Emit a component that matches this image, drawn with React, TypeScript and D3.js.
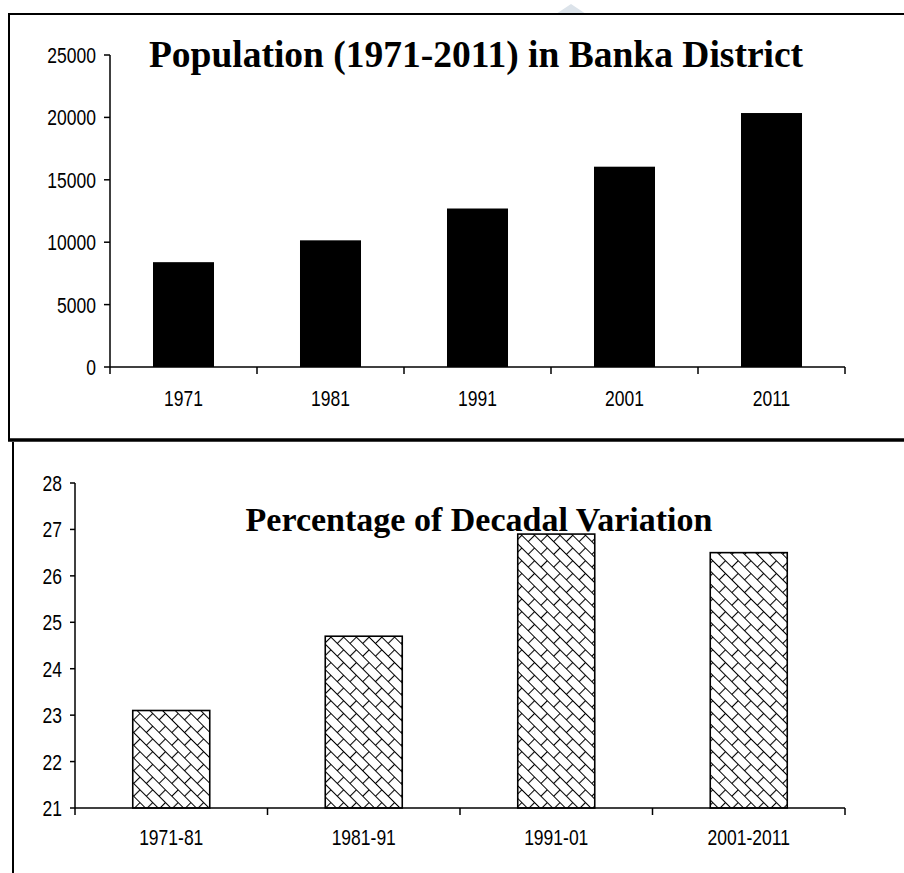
import React from "react";
import * as d3 from "d3";

const popYears = ["1971", "1981", "1991", "2001", "2011"];
const popValues = [8400, 10150, 12700, 16050, 20350];
const popTicks = [0, 5000, 10000, 15000, 20000, 25000];

const varPeriods = ["1971-81", "1981-91", "1991-01", "2001-2011"];
const varValues = [23.1, 24.7, 26.9, 26.5];
const varTicks = [21, 22, 23, 24, 25, 26, 27, 28];

const W = 904;
const H = 873;
const tickFont = "'Liberation Sans', Arial, sans-serif";
const titleFont = "'Liberation Serif', 'Times New Roman', serif";
const SY = 1.27;

function TickText(props: { x: number; y: number; anchor: string; children: React.ReactNode }) {
  const { x, y, anchor, children } = props;
  return (
    <text
      transform={`translate(${x},${y}) scale(1,${SY})`}
      textAnchor={anchor}
      fontFamily={tickFont}
      fontSize={17.5}
    >
      {children}
    </text>
  );
}

export default function App() {
  const x1 = d3.scaleBand().domain(popYears).range([110, 845]).paddingInner(0).paddingOuter(0);
  const y1 = d3.scaleLinear().domain([0, 25000]).range([367, 55]);
  const bw1 = x1.bandwidth() * 0.415;

  const x2 = d3.scaleBand().domain(varPeriods).range([75, 845]).paddingInner(0).paddingOuter(0);
  const y2 = d3.scaleLinear().domain([21, 28]).range([808, 483]);
  const bw2 = x2.bandwidth() * 0.4;

  return (
    <svg
      width={W}
      height={H}
      style={{ position: "absolute", left: 0, top: 0, background: "#fff" }}
    >
      <defs>
        <pattern
          id="wave"
          patternUnits="userSpaceOnUse"
          width="18"
          height="18"
          patternTransform="rotate(45)"
        >
          <rect width="18" height="18" fill="#fff" />
          <path
            d="M0,0.5 L18,0.5 M0,9.5 L18,9.5 M0.5,0.5 L0.5,9.5 M9.5,9.5 L9.5,18.5"
            stroke="#000"
            strokeWidth={1.1}
            fill="none"
          />
        </pattern>
      </defs>

      {/* faint watermark triangle */}
      <path d="M571,4 L556,14 L586,14 Z" fill="#dce3ea" />

      {/* top frame */}
      <line x1={8} y1={14} x2={W} y2={14} stroke="#000" strokeWidth={2} />
      <line x1={9} y1={13} x2={9} y2={440} stroke="#000" strokeWidth={2} />
      <line x1={8} y1={440} x2={W} y2={440} stroke="#000" strokeWidth={3.5} />
      {/* bottom frame */}
      <line x1={13} y1={442} x2={13} y2={H} stroke="#000" strokeWidth={2} />

      {/* top chart */}
      <text
        x={476}
        y={67}
        textAnchor="middle"
        fontFamily={titleFont}
        fontWeight="bold"
        fontSize={37.5}
      >
        Population (1971-2011) in Banka District
      </text>
      {popYears.map((d, i) => (
        <rect
          key={d}
          x={(x1(d) as number) + x1.bandwidth() / 2 - bw1 / 2}
          y={y1(popValues[i])}
          width={bw1}
          height={y1(0) - y1(popValues[i])}
          fill="#000"
        />
      ))}
      <line x1={110} y1={y1(25000)} x2={110} y2={y1(0)} stroke="#000" strokeWidth={1.5} />
      <line x1={110} y1={y1(0)} x2={845} y2={y1(0)} stroke="#000" strokeWidth={1.5} />
      {popTicks.map((t) => (
        <g key={t}>
          <line x1={104} x2={110} y1={y1(t)} y2={y1(t)} stroke="#000" strokeWidth={1.5} />
          <TickText x={96} y={y1(t) + 8} anchor="end">
            {t}
          </TickText>
        </g>
      ))}
      {[...popYears.map((d) => x1(d) as number), 845].map((xv, i) => (
        <line key={i} x1={xv} x2={xv} y1={y1(0)} y2={y1(0) + 7} stroke="#000" strokeWidth={1.5} />
      ))}
      {popYears.map((d) => (
        <TickText key={d} x={(x1(d) as number) + x1.bandwidth() / 2} y={406} anchor="middle">
          {d}
        </TickText>
      ))}

      {/* bottom chart */}
      <text
        x={479}
        y={531}
        textAnchor="middle"
        fontFamily={titleFont}
        fontWeight="bold"
        fontSize={34}
      >
        Percentage of Decadal Variation
      </text>
      {varPeriods.map((d, i) => (
        <rect
          key={d}
          x={(x2(d) as number) + x2.bandwidth() / 2 - bw2 / 2}
          y={y2(varValues[i])}
          width={bw2}
          height={y2(21) - y2(varValues[i])}
          fill="url(#wave)"
          stroke="#000"
          strokeWidth={1.6}
        />
      ))}
      <line x1={75} y1={y2(28)} x2={75} y2={y2(21)} stroke="#000" strokeWidth={1.5} />
      <line x1={75} y1={y2(21)} x2={845} y2={y2(21)} stroke="#000" strokeWidth={1.5} />
      {varTicks.map((t) => (
        <g key={t}>
          <line x1={70} x2={75} y1={y2(t)} y2={y2(t)} stroke="#000" strokeWidth={1.5} />
          <TickText x={62} y={y2(t) + 8} anchor="end">
            {t}
          </TickText>
        </g>
      ))}
      {[...varPeriods.map((d) => x2(d) as number), 845].map((xv, i) => (
        <line key={i} x1={xv} x2={xv} y1={y2(21)} y2={y2(21) + 7} stroke="#000" strokeWidth={1.5} />
      ))}
      {varPeriods.map((d) => (
        <TickText key={d} x={(x2(d) as number) + x2.bandwidth() / 2} y={845} anchor="middle">
          {d}
        </TickText>
      ))}
    </svg>
  );
}
